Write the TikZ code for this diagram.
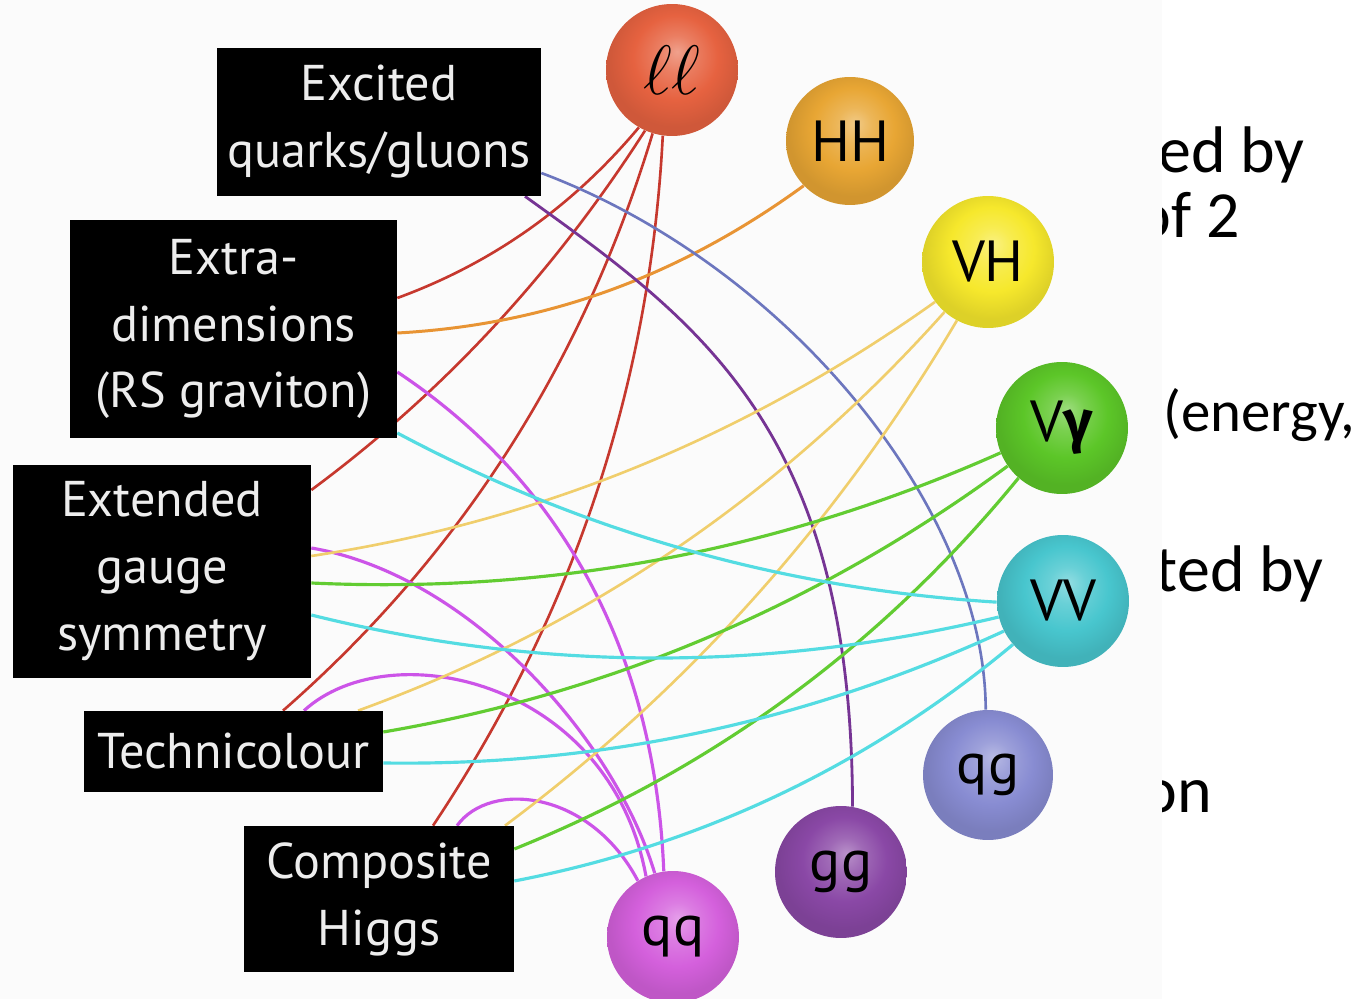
\documentclass[tikz,border=0pt]{standalone}
\usepackage{fontspec}
\newfontfamily\figfont{PT Sans}
\newfontfamily\greekfont{Fira Sans}
\newfontfamily\slidefont{Carlito}
\usetikzlibrary{calc}
\pgfdeclarelayer{bg}
\pgfdeclarelayer{lines}
\pgfsetlayers{bg,lines,main}
% sphere colours
\definecolor{cLL}{RGB}{230,98,64}
\definecolor{cHH}{RGB}{232,166,52}
\definecolor{cVH}{RGB}{246,232,44}
\definecolor{cVg}{RGB}{92,198,40}
\definecolor{cVV}{RGB}{72,198,206}
\definecolor{cqg}{RGB}{136,140,210}
\definecolor{cgg}{RGB}{138,72,166}
\definecolor{cqq}{RGB}{212,96,220}
% line colours
\definecolor{lRed}{RGB}{198,56,46}
\definecolor{lOra}{RGB}{232,148,52}
\definecolor{lYel}{RGB}{240,206,108}
\definecolor{lGrn}{RGB}{98,204,50}
\definecolor{lCya}{RGB}{84,220,226}
\definecolor{lMag}{RGB}{204,84,232}
\definecolor{lPur}{RGB}{118,52,148}
\definecolor{lBlu}{RGB}{108,118,190}
\colorlet{ballc}{cLL}
\pgfdeclareradialshading[ballc]{softball}{\pgfpoint{2bp}{7bp}}{%
  color(0bp)=(ballc!60!white); color(7bp)=(ballc!82!white);
  color(16bp)=(ballc); color(25bp)=(ballc!90!black); color(50bp)=(ballc!90!black)}
\begin{document}
\begin{tikzpicture}[x=0.02cm, y=-0.02cm,
  box/.style={fill=black, text=white!93!black, align=center, inner sep=0pt,
    font=\figfont\fontsize{28.6}{38.1}\selectfont},
  sph/.style={circle, inner sep=0pt, minimum size=2.64cm,
    /utils/exec={\colorlet{ballc}{#1}}, shading=softball, shade,
    text=black, font=\figfont\fontsize{33}{33}\selectfont},
  slide/.style={inner sep=0pt, text=black, font=\slidefont\fontsize{37.5}{40}\selectfont},
  slidesmall/.style={inner sep=0pt, text=black, font=\slidefont\fontsize{33.5}{36}\selectfont},
  lred/.style={draw=lRed, line width=1.5pt},
  lora/.style={draw=lOra, line width=1.7pt},
  lyel/.style={draw=lYel, line width=1.5pt},
  lgrn/.style={draw=lGrn, line width=1.8pt},
  lcya/.style={draw=lCya, line width=1.8pt},
  lmag/.style={draw=lMag, line width=1.8pt},
  lpur/.style={draw=lPur, line width=1.6pt},
  lblu/.style={draw=lBlu, line width=1.5pt}]
\useasboundingbox (0,0) rectangle (1370,999);

\begin{pgfonlayer}{bg}
  \fill[white] (0,0) rectangle (1370,999);
  \node[slide, anchor=base east] (t1) at (1305,173) {ed by};
  \node[slide, anchor=base east] (t2) at (1240,238) {of 2};
  \node[slidesmall, anchor=base west] (t3) at (1163,432) {(energy,};
  \node[slide, anchor=base east] (t4) at (1324,592) {ted by};
  \node[slide, anchor=base east] (t5) at (1212,813) {on};
  \fill[gray!3] (0,0) rectangle (1162,999);
\end{pgfonlayer}

% models
\node[box, minimum width=6.48cm, minimum height=2.96cm] (ex) at (379,122) {Excited\\quarks/gluons};
\node[box, minimum width=6.54cm, minimum height=4.36cm] (ed) at (233.5,329) {Extra-\\dimensions\\(RS graviton)};
\node[box, minimum width=5.96cm, minimum height=4.26cm] (eg) at (162,571.5) {Extended\\gauge\\symmetry};
\node[box, minimum width=5.98cm, minimum height=1.62cm] (tc) at (233.5,751.5) {Technicolour};
\node[box, minimum width=5.4cm, minimum height=2.92cm] (ch) at (379,899) {Composite\\Higgs};

% final states
\node[sph=cLL] (ll) at (672,70) {{\fontsize{24.88}{25}\selectfont\scalebox{1.6}{$\ell\ell$}}};
\node[sph=cHH, minimum size=2.56cm] (HH) at (850,141) {HH};
\node[sph=cVH] (VH) at (988,262) {VH};
\node[sph=cVg] (Vg) at (1062,428) {V{\greekfont\bfseries γ}};
\node[sph=cVV] (VV) at (1063,601) {VV};
\node[sph=cqg, minimum size=2.6cm] (qg) at (988,775) {qg};
\node[sph=cgg] (gg) at (841,872) {gg};
\node[sph=cqq] (qq) at (673,937) {qq};

\begin{pgfonlayer}{lines}
  % ll (red)
  \draw[lred] (ll.240) .. controls (573,206) and (493,263) .. (ed.east |- 0,298);
  \draw[lred] (ll.246) .. controls (555,271) and (445,391) .. (eg.east |- 0,490);
  \draw[lred] (ll.253) .. controls (584,361) and (462,554) .. (tc.north -| 283,0);
  \draw[lred] (ll.262) .. controls (650,385) and (573,616) .. (ch.north -| 433,0);
  % HH (orange)
  \draw[lora] (HH.224) .. controls (677,278) and (544,325) .. (ed.east |- 0,333);
  % qg (blue) and gg (purple)
  \draw[lblu] (ex.east |- 0,173) .. controls (786,265) and (985,507) .. (qg.92);
  \draw[lpur] (ex.south -| 525,0) .. controls (700,322) and (852,430) .. (gg.80);
  % qq (magenta)
  \draw[lmag] (ed.east |- 0,372) .. controls (560,480) and (655,650) .. (qq.98);
  \draw[lmag] (eg.east |- 0,548) .. controls (470,575) and (615,740) .. (qq.106);
  \draw[lmag] (tc.north -| 304,0) .. controls (390,632) and (610,680) .. (qq.114);
  \draw[lmag] (ch.north -| 457,0) .. controls (490,780) and (590,790) .. (qq.122);
  % VH (yellow)
  \draw[lyel] (eg.east |- 0,556) .. controls (537,522) and (744,438) .. (VH.217);
  \draw[lyel] (tc.north -| 358,0) .. controls (585,628) and (779,497) .. (VH.229);
  \draw[lyel] (ch.north -| 505,0) .. controls (688,689) and (838,521) .. (VH.242);
  % Vgamma (green)
  \draw[lgrn] (eg.east |- 0,583) .. controls (551,594) and (780,551) .. (Vg.202);
  \draw[lgrn] (tc.east |- 0,732) .. controls (612,693) and (820,604) .. (Vg.215);
  \draw[lgrn] (ch.east |- 0,849) .. controls (713,769) and (881,646) .. (Vg.229);
  % VV (cyan)
  \draw[lcya] (ed.east |- 0,433) .. controls (585,533) and (784,589) .. (VV.181);
  \draw[lcya] (eg.east |- 0,615) .. controls (540,672) and (768,672) .. (VV.194);
  \draw[lcya] (tc.east |- 0,763) .. controls (599,766) and (804,723) .. (VV.207);
  \draw[lcya] (ch.east |- 0,881) .. controls (701,845) and (867,766) .. (VV.221);
\end{pgfonlayer}
\end{tikzpicture}
\end{document}
